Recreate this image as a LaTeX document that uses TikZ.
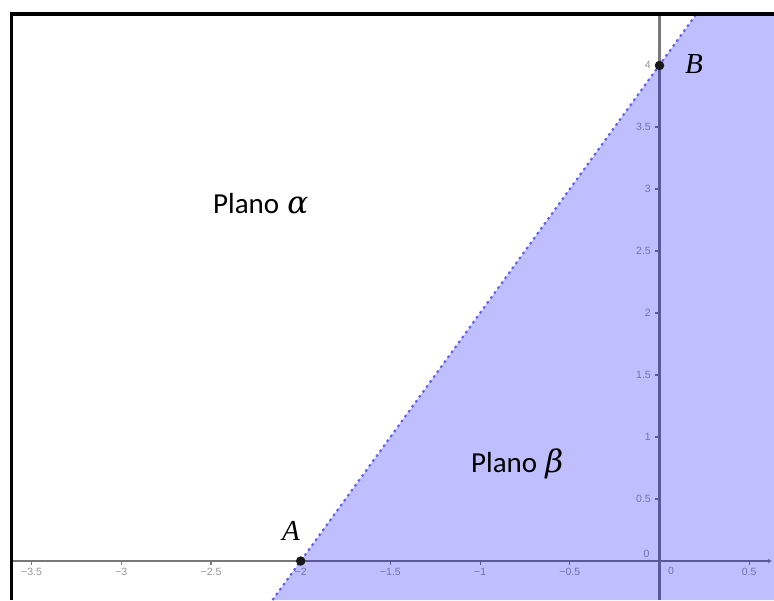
\documentclass[tikz,border=0pt]{standalone}
\usepackage{fontspec}
\setmainfont{Carlito}
\newfontfamily\ticksf{Liberation Sans}
\newfontfamily\letterfont{Liberation Serif}
\newfontfamily\greekfont{DejaVu Serif}
\newcommand{\lettit}[1]{{\letterfont\itshape #1}}
\newcommand{\greekit}[1]{{\greekfont\itshape\fontsize{31}{34}\selectfont #1}}
\usetikzlibrary{arrows.meta}
\definecolor{axisgray}{RGB}{120,120,120}
\definecolor{ticklbl}{RGB}{150,150,150}
\definecolor{edgeblue}{RGB}{95,95,245}
\begin{document}
\begin{tikzpicture}[x=1pt,y=-1pt,
  axisline/.style={draw=axisgray,line width=2.2pt},
  tickline/.style={draw=axisgray,line width=1.1pt},
  ticklabel/.style={text=ticklbl,font=\ticksf\fontsize{10.5}{12}\selectfont,inner sep=0pt},
  planefill/.style={fill=blue,fill opacity=0.25},
  boundary/.style={draw=edgeblue,line width=2.1pt,dash pattern=on 2.5pt off 3.6pt},
  frameline/.style={draw=black,line width=3.6pt},
  pt/.style={circle,fill=black!90,inner sep=0pt,minimum size=9.5pt},
  biglabel/.style={font=\fontsize{29}{34}\selectfont,inner sep=0pt}]
\useasboundingbox (0,0) rectangle (774,600);
\begin{scope}
  \clip (11.5,14) rectangle (774,600);
  % axes
  \coordinate (xL) at (11.5,561);
  \coordinate (xR) at (772,561);
  \coordinate (yB) at (659.5,600);
  \coordinate (yT) at (659.5,14);
  \draw[axisline,-{Latex[length=4pt,width=4.5pt]}] (xL) -- (xR);
  \draw[axisline] (yB) -- (yT);
  % x ticks
  \foreach \v/\t in {-3.5/{−3.5},-3/{−3},-2.5/{−2.5},-2/{−2},-1.5/{−1.5},-1/{−1},-0.5/{−0.5},0.5/{0.5}}{
    \draw[tickline] ({659.5+179.4*\v},561) -- ({659.5+179.4*\v},564.5);
    \node[ticklabel] at ({659.5+179.4*\v},571.5) {\t};
  }
  \node[ticklabel] (x0) at (671,571) {0};
  \node[ticklabel] (y0) at (646.5,554) {0};
  % y ticks
  \foreach \v in {0.5,1,1.5,2,2.5,3,3.5,4}{
    \draw[tickline] (655,{561-124*\v}) -- (659.5,{561-124*\v});
    \node[ticklabel,anchor=east] at (651,{561-124*\v}) {\v};
  }
  % half-plane
  \coordinate (lineBot) at (272.5,600);
  \coordinate (lineTop) at (696.4,14);
  \fill[planefill] (lineBot) -- (lineTop) -- (774,14) -- (774,600) -- cycle;
  \draw[boundary] (lineBot) -- (lineTop);
\end{scope}
% frame
\coordinate (fBL) at (11.5,600);
\coordinate (fTL) at (11.5,14);
\coordinate (fTR) at (774,14);
\draw[frameline] (fBL) -- (fTL) -- (fTR);
% points
\node[pt] (A) at (300.7,561) {};
\node[pt] (B) at (659.5,65.5) {};
\node[biglabel] (Alab) at (291,531) {\lettit{A}};
\node[biglabel] (Blab) at (694,64) {\lettit{B}};
\node[biglabel,anchor=base west] (alpha) at (213,213) {Plano\hspace{1.5pt} \greekit{α}};
\node[biglabel,anchor=base west] (beta) at (471,472) {Plano\hspace{1.5pt} \greekit{β}};
\end{tikzpicture}
\end{document}
